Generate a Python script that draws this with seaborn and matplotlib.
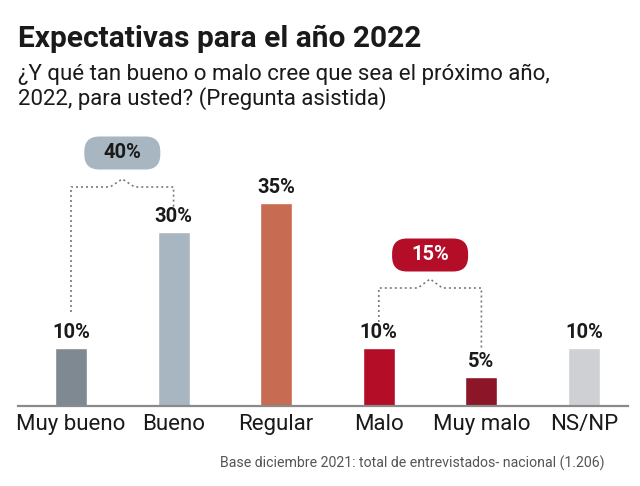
import matplotlib
matplotlib.use("Agg")
import matplotlib.pyplot as plt
from matplotlib.patches import FancyBboxPatch
import seaborn as sns
import pandas as pd

categories = ["Muy bueno", "Bueno", "Regular", "Malo", "Muy malo", "NS/NP"]
values = [10, 30, 35, 10, 5, 10]
value_labels = ["10%", "30%", "35%", "10%", "5%", "10%"]
bar_colors = ["#7f8991", "#a8b6c1", "#c76b52", "#b40d28", "#8c1627", "#cfd0d4"]
group_labels = ["40%", "15%"]
group_pairs = [(0, 1), (3, 4)]
group_colors = ["#a8b6c1", "#b40d28"]
group_text_colors = ["#1a1a1a", "#ffffff"]

title = "Expectativas para el año 2022"
subtitle = "¿Y qué tan bueno o malo cree que sea el próximo año,\n2022, para usted? (Pregunta asistida)"
footer = "Base diciembre 2021: total de entrevistados- nacional (1.206)"

sns.set_theme(style="white")
plt.rcParams["font.family"] = ["Roboto", "DejaVu Sans"]

df = pd.DataFrame({"cat": categories, "val": values})

W, H = 640, 486
fig = plt.figure(figsize=(6.4, 4.86), dpi=100)
ax_top = 130
ax_bottom = 406
ax = fig.add_axes([18 / W, (H - ax_bottom) / H, 610 / W, (ax_bottom - ax_top) / H])

sns.barplot(data=df, x="cat", y="val", hue="cat", palette=bar_colors,
            legend=False, width=0.31, ax=ax, saturation=1)

px_y = 5.8
ax.set_ylim(0, (ax_bottom - ax_top) / px_y)
px_x = (584 - 71) / 5
ax.set_xlim(-(71 - 18) / px_x, 5 + (628 - 584) / px_x)

for s in ["top", "right", "left"]:
    ax.spines[s].set_visible(False)
ax.spines["bottom"].set_color("#8a8a8a")
ax.spines["bottom"].set_linewidth(1.6)
ax.set_yticks([])
ax.set_xlabel("")
ax.set_ylabel("")
ax.tick_params(axis="x", length=0, pad=6, labelsize=16, labelcolor="#1a1a1a")

for i, (v, lab) in enumerate(zip(values, value_labels)):
    ax.annotate(lab, (i, v), xytext=(0, 4), textcoords="offset points",
                ha="center", va="bottom", fontsize=14.5, fontweight="bold",
                color="#1a1a1a")

def y_of(px):
    return (ax_bottom - px) / px_y

line_kw = dict(color="#7a7a7a", linestyle=(0, (1.2, 1.8)), linewidth=1.2)

brackets = [
    dict(h=y_of(187), peak=y_of(179), left_end=y_of(312), right_end=y_of(207), badge=y_of(153)),
    dict(h=y_of(288), peak=y_of(279), left_end=y_of(322), right_end=y_of(350), badge=y_of(255)),
]
bw = 76 / px_x
bh = 33 / px_y
for (a, b), br, gl, gc, tc in zip(group_pairs, brackets, group_labels, group_colors, group_text_colors):
    mid = (a + b) / 2
    cw = 0.12
    xs = [a, a, mid - cw, mid, mid + cw, b, b]
    ys = [br["left_end"], br["h"], br["h"], br["peak"], br["h"], br["h"], br["right_end"]]
    ax.plot(xs, ys, **line_kw, clip_on=False)
    patch = FancyBboxPatch((mid - bw / 2, br["badge"] - bh / 2), bw, bh,
                           boxstyle="round,pad=0,rounding_size=%f" % (15 / px_x),
                           mutation_aspect=px_x / px_y, fc=gc, ec="none", clip_on=False)
    ax.add_patch(patch)
    ax.text(mid, br["badge"], gl, ha="center", va="center", fontsize=14.5,
            fontweight="bold", color=tc, clip_on=False)

fig.text(18 / W, 1 - 39 / H, title, fontsize=21.5, fontweight="bold",
         color="#1a1a1a", ha="left", va="center")
fig.text(18 / W, 1 - 64 / H, subtitle, fontsize=16, color="#1a1a1a",
         ha="left", va="top", linespacing=1.12)
fig.text(605 / W, 1 - 463 / H, footer, fontsize=10.2, color="#555555",
         ha="right", va="center")

fig.savefig("out.png", dpi=100)
